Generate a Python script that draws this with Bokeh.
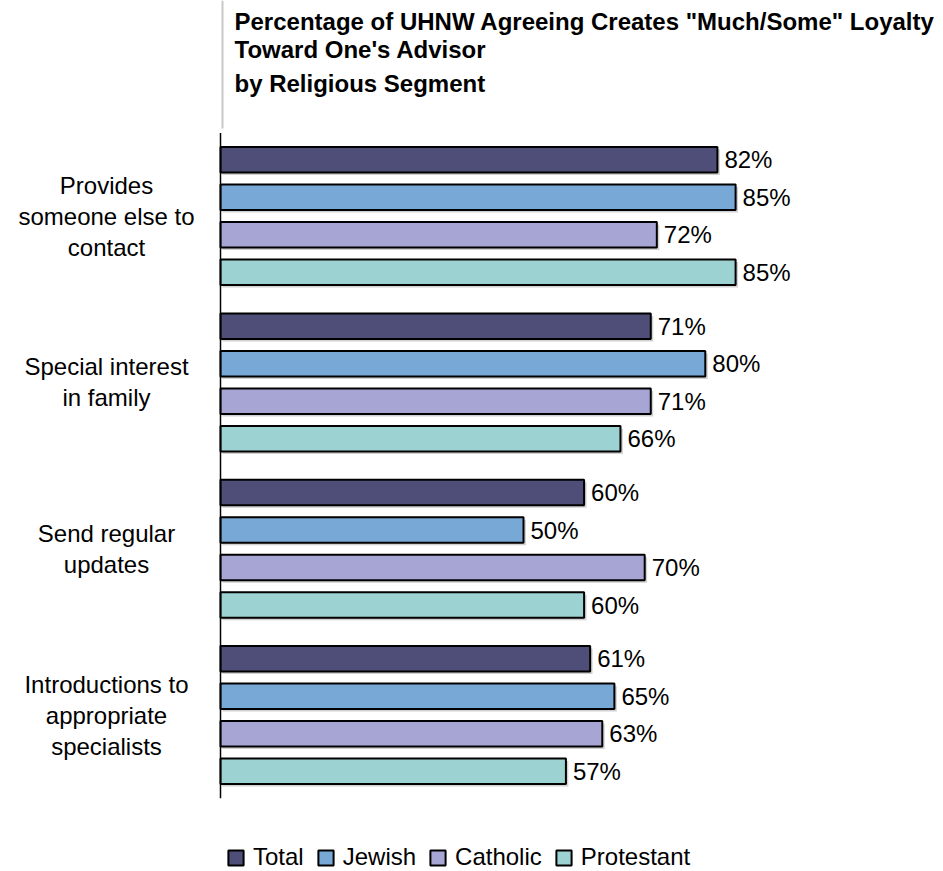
from bokeh.plotting import figure
from bokeh.models import Range1d, Legend, LegendItem
from bokeh.core.properties import value
from bokeh.embed import file_html
from bokeh.resources import INLINE

# ---- data ----
categories = [
    "Provides\nsomeone else to\ncontact",
    "Special interest\nin family",
    "Send regular\nupdates",
    "Introductions to\nappropriate\nspecialists",
]
series_names = ["Total", "Jewish", "Catholic", "Protestant"]
total = [82, 71, 60, 61]
jewish = [85, 80, 50, 65]
catholic = [72, 71, 70, 63]
protestant = [85, 66, 60, 57]
title_lines = [
    'Percentage of UHNW Agreeing Creates "Much/Some" Loyalty',
    "Toward One's Advisor",
    "by Religious Segment",
]

# ---- styles ----
colors = ["#4e4e78", "#78a8d6", "#a6a5d4", "#9cd2d2"]
FONT = value("Liberation Sans")

W, H = 943, 871
X0_PX = 220.0       # pixel of 0 %
PX_PER_PCT = 6.06
C0_PX = 215.6       # pixel of first category centre
PX_PER_CAT = 166.33


def dx(px):
    return (px - X0_PX) / PX_PER_PCT


def dy(px):
    return (px - C0_PX) / PX_PER_CAT


p = figure(
    width=W, height=H, output_backend="svg", toolbar_location=None,
    x_range=Range1d(dx(0), dx(W)), y_range=Range1d(dy(H), dy(0)),
    min_border=0, x_axis_location=None, y_axis_location=None,
    outline_line_color=None,
)
p.grid.grid_line_color = None
p.background_fill_color = "white"

pitch = 37.5 / PX_PER_CAT
bar_h = 25.5 / PX_PER_CAT
all_vals = [total, jewish, catholic, protestant]
items = []
for i, (name, vals, col) in enumerate(zip(series_names, all_vals, colors)):
    off = (i - 1.5) * pitch
    ys = [j + off for j in range(len(categories))]
    # soft shadow
    p.hbar(y=[y + 2.5 / PX_PER_CAT for y in ys], left=0.3, right=[v + 0.4 for v in vals],
           height=bar_h, fill_color="#9a9a9a", fill_alpha=0.45, line_color=None)
    r = p.hbar(y=ys, left=0, right=vals, height=bar_h, fill_color=col,
               line_color="black", line_width=2)
    items.append(LegendItem(label=name, renderers=[r]))
    p.text(x=vals, y=ys, text=[f"{v}%" for v in vals], x_offset=7,
           text_align="left", text_baseline="middle", text_font=FONT,
           text_font_size="24px", text_color="black")

# category labels
p.text(x=[dx(106)] * len(categories), y=list(range(len(categories))), text=categories,
       text_align="center", text_baseline="middle", text_font=FONT,
       text_font_size="24px", text_line_height=1.15, text_color="black")

# axis line spanning the category bands
p.segment(x0=[0], y0=[-0.5], x1=[0], y1=[len(categories) - 0.5],
          line_color="black", line_width=1.5)
# thin grey rule beside the title
p.segment(x0=[dx(222)], y0=[dy(0)], x1=[dx(222)], y1=[dy(128)],
          line_color="#c8c8c8", line_width=2)

# title
p.text(x=[dx(234)] * 3, y=[dy(21), dy(48.5), dy(82.5)], text=title_lines,
       text_align="left", text_baseline="middle", text_font=FONT,
       text_font_style="bold", text_font_size="24px", text_color="black")

legend = Legend(items=items, orientation="horizontal", location=(226, 0),
                glyph_width=19, glyph_height=19, label_standoff=8, spacing=12,
                padding=0, margin=0, border_line_color=None,
                background_fill_alpha=0, label_text_font="Liberation Sans",
                label_text_font_size="24px", label_text_color="black")
p.add_layout(legend)

open("out.html", "w").write(file_html(p, INLINE))
